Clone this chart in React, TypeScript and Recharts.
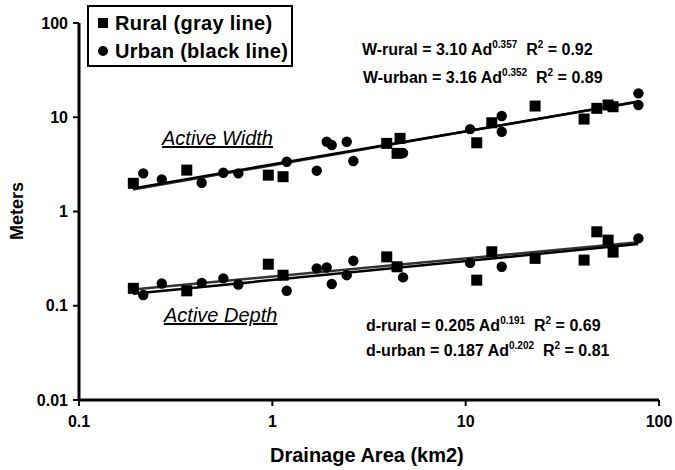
import { ScatterChart, Scatter, XAxis, YAxis } from 'recharts';

// drainage area (km2) and active channel size (m)
const ruralWidthArea = [0.191, 0.361, 0.953, 1.136, 3.906, 4.577, 4.417, 11.41, 13.65, 22.86, 40.97, 47.68, 54.54, 57.87];
const ruralWidth = [1.99, 2.75, 2.43, 2.34, 5.28, 5.97, 4.14, 5.36, 8.74, 13.15, 9.57, 12.43, 13.49, 12.93];

const urbanWidthArea = [0.215, 0.268, 0.431, 0.558, 0.667, 1.187, 1.697, 1.911, 2.029, 2.426, 2.625, 4.745, 10.54, 15.37, 15.37, 78.25, 78.25];
const urbanWidth = [2.54, 2.19, 2.02, 2.58, 2.54, 3.37, 2.71, 5.5, 5.07, 5.5, 3.43, 4.17, 7.49, 10.3, 7.02, 17.93, 13.48];

const ruralDepthArea = [0.191, 0.361, 0.953, 1.136, 3.906, 4.417, 11.41, 13.65, 22.86, 40.97, 47.68, 54.54, 57.87];
const ruralDepth = [0.153, 0.144, 0.276, 0.211, 0.33, 0.259, 0.187, 0.374, 0.318, 0.305, 0.609, 0.497, 0.371];

const urbanDepthArea = [0.215, 0.268, 0.431, 0.558, 0.667, 1.187, 1.697, 1.911, 2.029, 2.426, 2.625, 4.745, 10.54, 15.37, 78.25];
const urbanDepth = [0.13, 0.172, 0.175, 0.195, 0.168, 0.144, 0.249, 0.255, 0.17, 0.211, 0.3, 0.2, 0.285, 0.259, 0.518];

// fitted power-law lines, end points
const fitArea = [0.19, 78];
const ruralWidthFit = [1.71, 14.7];
const urbanWidthFit = [1.76, 14.6];
const ruralDepthFit = [0.149, 0.471];
const urbanDepthFit = [0.134, 0.451];

const xTicks = [0.1, 1, 10, 100];
const yTicks = [0.01, 0.1, 1, 10, 100];

const zip = (xs: number[], ys: number[]) => xs.map((x, i) => ({ x, y: ys[i] }));

const font = "Arial, 'Liberation Sans', sans-serif";

const Square = (p: any) => <rect x={p.cx - 5.5} y={p.cy - 5.5} width={11} height={11} fill="#000" />;
const Dot = (p: any) => <circle cx={p.cx} cy={p.cy} r={5.2} fill="#000" />;
const Nothing = () => <g />;

const sup = { fontSize: 10, position: 'relative' as const, top: -7 };

const txt = (left: number, top: number, size: number, extra: any = {}) => ({
  position: 'absolute' as const, left, top, fontSize: size, lineHeight: `${size}px`,
  fontWeight: 'bold' as const, whiteSpace: 'nowrap' as const, color: '#000', ...extra,
});

export default function App() {
  const tickStyle = { fill: '#000', fontSize: 16, fontWeight: 'bold', fontFamily: font };
  return (
    <div style={{ position: 'absolute', left: 0, top: 0, width: 675, height: 470, background: '#fff', fontFamily: font }}>
      <ScatterChart width={675} height={470} margin={{ top: 23, right: 16, bottom: 30, left: 0 }}>
        <XAxis dataKey="x" type="number" scale="log" domain={[0.1, 100]} ticks={xTicks} allowDataOverflow
          height={40} axisLine={{ stroke: '#000', strokeWidth: 3 }} tickLine={{ stroke: '#000', strokeWidth: 2 }}
          tickSize={6} tickMargin={10} tick={tickStyle} />
        <XAxis xAxisId="top" orientation="top" type="number" scale="log" domain={[0.1, 100]} height={0}
          tick={false} tickLine={false} axisLine={{ stroke: '#000', strokeWidth: 1.5 }} />
        <YAxis dataKey="y" type="number" scale="log" domain={[0.01, 100]} ticks={yTicks} allowDataOverflow
          width={79} axisLine={{ stroke: '#000', strokeWidth: 3 }} tickLine={{ stroke: '#000', strokeWidth: 2 }}
          tickSize={6} tickMargin={5} tick={tickStyle} />
        <YAxis yAxisId="right" orientation="right" type="number" scale="log" domain={[0.01, 100]} width={0}
          tick={false} tickLine={false} axisLine={{ stroke: '#000', strokeWidth: 1.5 }} />

        <Scatter data={zip(fitArea, ruralWidthFit)} line={{ stroke: '#333', strokeWidth: 2.5 }} shape={Nothing} isAnimationActive={false} />
        <Scatter data={zip(fitArea, urbanWidthFit)} line={{ stroke: '#000', strokeWidth: 2.5 }} shape={Nothing} isAnimationActive={false} />
        <Scatter data={zip(fitArea, ruralDepthFit)} line={{ stroke: '#333', strokeWidth: 2.5 }} shape={Nothing} isAnimationActive={false} />
        <Scatter data={zip(fitArea, urbanDepthFit)} line={{ stroke: '#000', strokeWidth: 2.5 }} shape={Nothing} isAnimationActive={false} />

        <Scatter name="Rural" data={zip(ruralWidthArea, ruralWidth)} shape={Square} isAnimationActive={false} />
        <Scatter name="Urban" data={zip(urbanWidthArea, urbanWidth)} shape={Dot} isAnimationActive={false} />
        <Scatter name="Rural" data={zip(ruralDepthArea, ruralDepth)} shape={Square} isAnimationActive={false} />
        <Scatter name="Urban" data={zip(urbanDepthArea, urbanDepth)} shape={Dot} isAnimationActive={false} />
      </ScatterChart>

      {/* legend */}
      <div style={{ position: 'absolute', left: 87, top: 5, width: 202, height: 58, border: '2px solid #000', background: '#fff' }}>
        <div style={{ position: 'absolute', left: 9, top: 11, width: 10, height: 10, background: '#000' }} />
        <div style={txt(26, 6, 20, { letterSpacing: 0.3 })}>Rural (gray line)</div>
        <div style={{ position: 'absolute', left: 9, top: 39, width: 10, height: 10, borderRadius: 5, background: '#000' }} />
        <div style={txt(26, 34, 20, { letterSpacing: 0.3 })}>Urban (black line)</div>
      </div>

      <div style={txt(362, 42, 16)}>W-rural = 3.10 Ad<span style={sup}>0.357</span>&nbsp;&nbsp;R<span style={sup}>2</span> = 0.92</div>
      <div style={txt(363, 70, 16)}>W-urban = 3.16 Ad<span style={sup}>0.352</span>&nbsp;&nbsp;R<span style={sup}>2</span> = 0.89</div>
      <div style={txt(366, 318, 16)}>d-rural = 0.205 Ad<span style={sup}>0.191</span>&nbsp;&nbsp;R<span style={sup}>2</span> = 0.69</div>
      <div style={txt(366, 343, 16)}>d-urban = 0.187 Ad<span style={sup}>0.202</span>&nbsp;&nbsp;R<span style={sup}>2</span> = 0.81</div>

      <div style={txt(162, 128, 20, { fontWeight: 'normal', fontStyle: 'italic', textDecoration: 'underline' })}>Active Width</div>
      <div style={txt(164, 305, 20, { fontWeight: 'normal', fontStyle: 'italic', textDecoration: 'underline' })}>Active Depth</div>

      <div style={txt(270, 445, 20)}>Drainage Area (km2)</div>
      <div style={txt(-18, 202, 18, { transform: 'rotate(-90deg)', width: 70, textAlign: 'center' })}>Meters</div>
    </div>
  );
}
